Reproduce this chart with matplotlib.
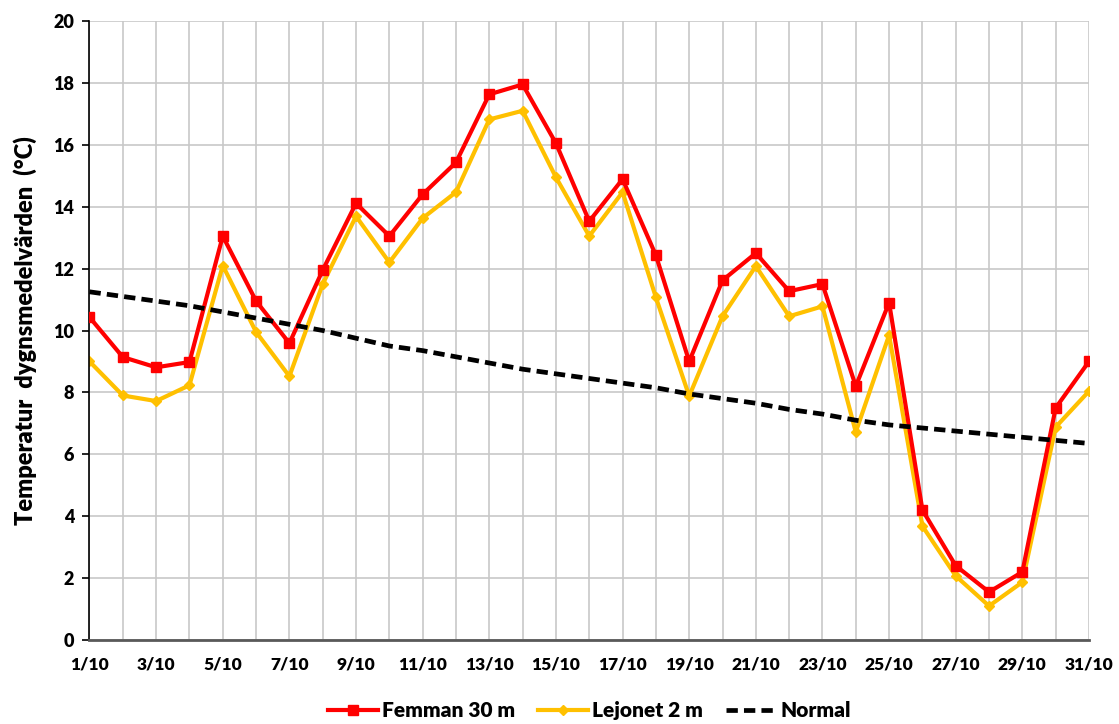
import matplotlib.pyplot as plt
from matplotlib.ticker import MultipleLocator

plt.rcParams['font.family'] = ['Lato', 'DejaVu Sans']
plt.rcParams['font.weight'] = 'bold'

DAYS = list(range(1, 32))
TICK_LABELS = ['%d/10' % d for d in range(1, 32, 2)]

FEMMAN_30M = [10.43, 9.14, 8.81, 8.98, 13.05, 10.95, 9.59, 11.95, 14.11, 13.05,
              14.40, 15.43, 17.63, 17.95, 16.05, 13.53, 14.89, 12.43, 9.00, 11.62,
              12.50, 11.27, 11.50, 8.20, 10.90, 4.20, 2.40, 1.55, 2.20, 7.50, 9.00]
LEJONET_2M = [9.00, 7.90, 7.72, 8.23, 12.10, 9.95, 8.52, 11.50, 13.69, 12.20,
              13.63, 14.47, 16.82, 17.10, 14.95, 13.05, 14.47, 11.07, 7.88, 10.46,
              12.08, 10.46, 10.78, 6.72, 9.85, 3.68, 2.07, 1.10, 1.87, 6.88, 8.04]
NORMAL = [11.25, 11.10, 10.95, 10.80, 10.60, 10.40, 10.20, 10.00, 9.75, 9.50,
          9.35, 9.15, 8.95, 8.75, 8.60, 8.45, 8.30, 8.15, 7.95, 7.80,
          7.65, 7.45, 7.30, 7.10, 6.95, 6.85, 6.75, 6.65, 6.55, 6.45, 6.35]

RED = '#FF0000'
GOLD = '#FFC000'
GRID_COLOR = '#C8C8C8'

fig = plt.figure(figsize=(11.19, 7.24), dpi=100)
ax = fig.add_axes([89.5 / 1119, 84 / 724, 999.5 / 1119, 619 / 724])

ax.plot(DAYS, FEMMAN_30M, color=RED, lw=3, marker='s', ms=7.5,
        label='Femman 30 m', zorder=3)
ax.plot(DAYS, LEJONET_2M, color=GOLD, lw=3, marker='D', ms=5,
        label='Lejonet 2 m', zorder=2)
ax.plot(DAYS, NORMAL, color='black', lw=3.4, ls=(0, (2.4, 1.3)),
        label='Normal', zorder=4)

ax.set_xlim(1, 31)
ax.set_ylim(0, 20)
ax.set_xticks(range(1, 32, 2))
ax.set_xticklabels(TICK_LABELS)
ax.xaxis.set_minor_locator(MultipleLocator(1))
ax.yaxis.set_major_locator(MultipleLocator(2))

ax.grid(which='both', axis='x', color=GRID_COLOR, lw=1.2, zorder=0)
ax.grid(which='major', axis='y', color=GRID_COLOR, lw=1.2, zorder=0)
ax.set_axisbelow(True)

for side in ('top', 'right'):
    ax.spines[side].set_visible(False)
ax.spines['left'].set_color('black')
ax.spines['left'].set_linewidth(1.2)
ax.spines['bottom'].set_color('#595959')
ax.spines['bottom'].set_linewidth(2)

ax.tick_params(axis='x', which='both', length=0, pad=12, labelsize=12.5)
ax.tick_params(axis='y', length=5, width=1.2, pad=6, labelsize=13)
for lab in ax.get_xticklabels() + ax.get_yticklabels():
    lab.set_fontweight('heavy')

ax.set_ylabel('Temperatur  dygnsmedelvärden  (°C)', fontsize=17,
              fontweight='heavy', labelpad=12)

ax.legend(loc='center', bbox_to_anchor=(0.5, -0.114), ncol=3,
          frameon=False, handlelength=2.4, handletextpad=0.2,
          columnspacing=1.1, prop={'weight': 'heavy', 'size': 15})

fig.savefig('out.png', dpi=100)
